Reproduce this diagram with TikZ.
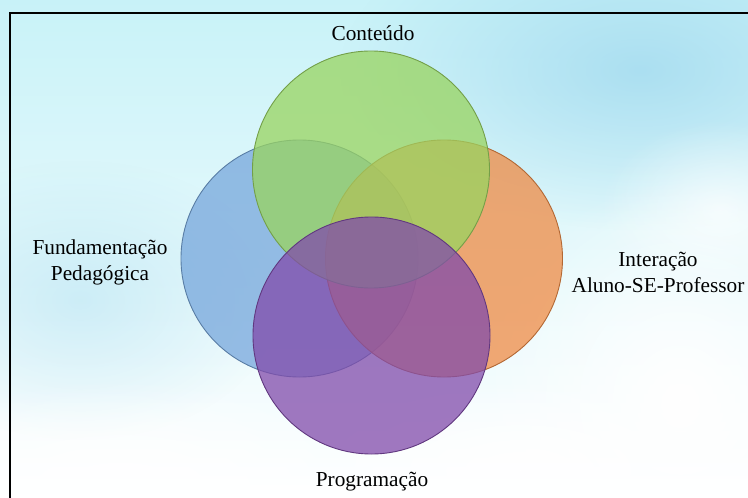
\documentclass[tikz,border=0pt]{standalone}
\usepackage{fontspec}
\setmainfont{Liberation Serif}
\usetikzlibrary{fadings}

\definecolor{skytop}{HTML}{C8F2F8}
\definecolor{skymid}{HTML}{BCE9F4}
\definecolor{skydeep}{HTML}{A2DAEF}
\definecolor{cgreen}{HTML}{99D460}
\definecolor{cblue}{HTML}{77A7DC}
\definecolor{corange}{HTML}{EF8B45}
\definecolor{cpurple}{HTML}{814BAB}

\tikzfading[name=softfade, inner color=transparent!0, outer color=transparent!100]

\tikzset{
  set/.style={circle, draw=#1!75!black, fill=#1, fill opacity=0.75,
    minimum size=237pt, inner sep=0pt, line width=0.9pt},
  lbl/.style={font=\fontsize{21.3}{26}\selectfont, align=center, text=black},
  cloud/.style={fill=white, path fading=softfade}
}

\begin{document}
\begin{tikzpicture}[x=1pt,y=-1pt]
    \useasboundingbox (0,0) rectangle (748,498);
    \clip (0,0) rectangle (748,498);
    % sky
    \shade[top color=skytop, middle color=skymid, bottom color=white] (0,0) rectangle (748,498);
    \fill[skydeep, path fading=softfade, opacity=0.8] (640,70) ellipse (300 and 160);
    \fill[skydeep, path fading=softfade, opacity=0.4] (80,300) ellipse (200 and 140);
    \fill[cloud] (120,490) ellipse (260 and 110);
    \fill[cloud] (680,400) ellipse (200 and 220);
    \fill[cloud] (520,470) ellipse (220 and 90);
    \fill[cloud, opacity=0.7] (720,210) ellipse (120 and 90);
    % frame
    \draw[line width=2pt] (10,498) -- (10,13) -- (748,13);

    % sets
    \node[set=cblue] (fundamentacao) at (299.5,258.5) {};
    \node[set=corange] (interacao) at (444,258.5) {};
    \node[set=cgreen] (conteudo) at (371,169.5) {};
    \node[set=cpurple] (programacao) at (371.5,335.5) {};

    % labels
    \node[lbl, anchor=base] (lconteudo) at (373,40) {Conteúdo};
    \node[lbl] (lfundamentacao) at (100,262) {Fundamentação\\Pedagógica};
    \node[lbl] (linteracao) at (658,272) {Interação\\Aluno-SE-Professor};
    \node[lbl, anchor=base] (lprogramacao) at (372,486) {Programação};
\end{tikzpicture}
\end{document}
